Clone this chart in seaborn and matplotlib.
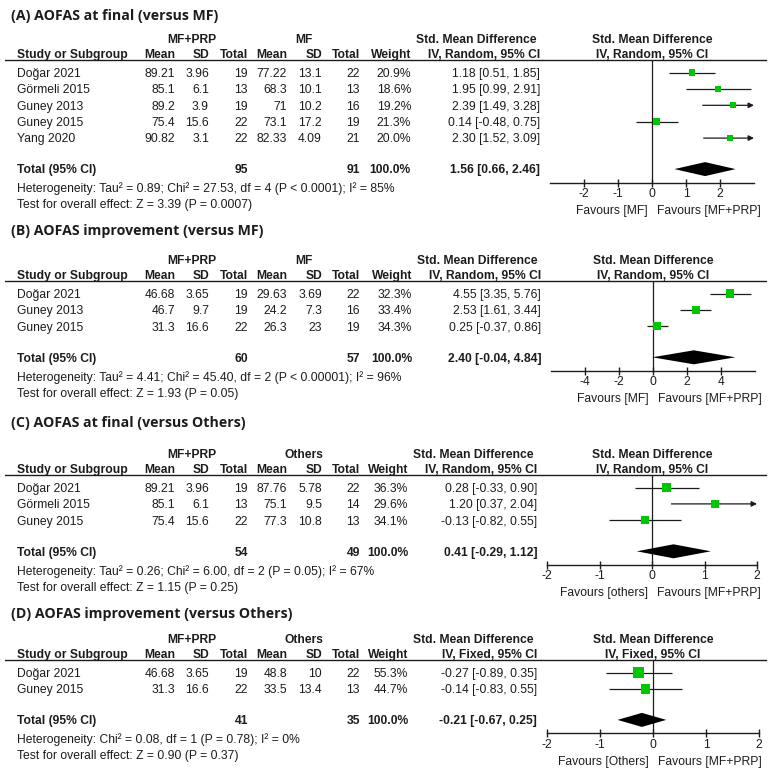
import numpy as np
import pandas as pd
import matplotlib
matplotlib.use("Agg")
import matplotlib.pyplot as plt
import seaborn as sns

sns.set_theme(style="white")
plt.rcParams['font.family'] = ['Liberation Sans', 'DejaVu Sans']

# ---------------- Panel A ----------------
a_title = "(A) AOFAS at final (versus MF)"
a_control = "MF"
a_method = "IV, Random, 95% CI"
a_studies = ["Doğar 2021", "Görmeli 2015", "Guney 2013", "Guney 2015", "Yang 2020"]
a_exp_mean = [89.21, 85.1, 89.2, 75.4, 90.82]
a_exp_sd = [3.96, 6.1, 3.9, 15.6, 3.1]
a_exp_n = [19, 13, 19, 22, 22]
a_ctl_mean = [77.22, 68.3, 71, 73.1, 82.33]
a_ctl_sd = [13.1, 10.1, 10.2, 17.2, 4.09]
a_ctl_n = [22, 13, 16, 19, 21]
a_weight = [20.9, 18.6, 19.2, 21.3, 20.0]
a_smd = [1.18, 1.95, 2.39, 0.14, 2.30]
a_lo = [0.51, 0.99, 1.49, -0.48, 1.52]
a_hi = [1.85, 2.91, 3.28, 0.75, 3.09]
a_total = [95, 91]
a_pooled = [1.56, 0.66, 2.46]
a_het = "Heterogeneity: Tau² = 0.89; Chi² = 27.53, df = 4 (P < 0.0001); I² = 85%"
a_test = "Test for overall effect: Z = 3.39 (P = 0.0007)"
a_ticks = [-2, -1, 0, 1, 2]
a_fav = ["Favours [MF]", "Favours [MF+PRP]"]

# ---------------- Panel B ----------------
b_title = "(B) AOFAS improvement (versus MF)"
b_control = "MF"
b_method = "IV, Random, 95% CI"
b_studies = ["Doğar 2021", "Guney 2013", "Guney 2015"]
b_exp_mean = [46.68, 46.7, 31.3]
b_exp_sd = [3.65, 9.7, 16.6]
b_exp_n = [19, 19, 22]
b_ctl_mean = [29.63, 24.2, 26.3]
b_ctl_sd = [3.69, 7.3, 23]
b_ctl_n = [22, 16, 19]
b_weight = [32.3, 33.4, 34.3]
b_smd = [4.55, 2.53, 0.25]
b_lo = [3.35, 1.61, -0.37]
b_hi = [5.76, 3.44, 0.86]
b_total = [60, 57]
b_pooled = [2.40, -0.04, 4.84]
b_het = "Heterogeneity: Tau² = 4.41; Chi² = 45.40, df = 2 (P < 0.00001); I² = 96%"
b_test = "Test for overall effect: Z = 1.93 (P = 0.05)"
b_ticks = [-4, -2, 0, 2, 4]
b_fav = ["Favours [MF]", "Favours [MF+PRP]"]

# ---------------- Panel C ----------------
c_title = "(C) AOFAS at final (versus Others)"
c_control = "Others"
c_method = "IV, Random, 95% CI"
c_studies = ["Doğar 2021", "Görmeli 2015", "Guney 2015"]
c_exp_mean = [89.21, 85.1, 75.4]
c_exp_sd = [3.96, 6.1, 15.6]
c_exp_n = [19, 13, 22]
c_ctl_mean = [87.76, 75.1, 77.3]
c_ctl_sd = [5.78, 9.5, 10.8]
c_ctl_n = [22, 14, 13]
c_weight = [36.3, 29.6, 34.1]
c_smd = [0.28, 1.20, -0.13]
c_lo = [-0.33, 0.37, -0.82]
c_hi = [0.90, 2.04, 0.55]
c_total = [54, 49]
c_pooled = [0.41, -0.29, 1.12]
c_het = "Heterogeneity: Tau² = 0.26; Chi² = 6.00, df = 2 (P = 0.05); I² = 67%"
c_test = "Test for overall effect: Z = 1.15 (P = 0.25)"
c_ticks = [-2, -1, 0, 1, 2]
c_fav = ["Favours [others]", "Favours [MF+PRP]"]

# ---------------- Panel D ----------------
d_title = "(D) AOFAS improvement (versus Others)"
d_control = "Others"
d_method = "IV, Fixed, 95% CI"
d_studies = ["Doğar 2021", "Guney 2015"]
d_exp_mean = [46.68, 31.3]
d_exp_sd = [3.65, 16.6]
d_exp_n = [19, 22]
d_ctl_mean = [48.8, 33.5]
d_ctl_sd = [10, 13.4]
d_ctl_n = [22, 13]
d_weight = [55.3, 44.7]
d_smd = [-0.27, -0.14]
d_lo = [-0.89, -0.83]
d_hi = [0.35, 0.55]
d_total = [41, 35]
d_pooled = [-0.21, -0.67, 0.25]
d_het = "Heterogeneity: Chi² = 0.08, df = 1 (P = 0.78); I² = 0%"
d_test = "Test for overall effect: Z = 0.90 (P = 0.37)"
d_ticks = [-2, -1, 0, 1, 2]
d_fav = ["Favours [Others]", "Favours [MF+PRP]"]

panels = [
    dict(title=a_title, control=a_control, method=a_method, studies=a_studies,
         em=a_exp_mean, esd=a_exp_sd, en=a_exp_n, cm=a_ctl_mean, csd=a_ctl_sd, cn=a_ctl_n,
         w=a_weight, smd=a_smd, lo=a_lo, hi=a_hi, tot=a_total, pooled=a_pooled,
         het=a_het, test=a_test, ticks=a_ticks, fav=a_fav,
         title_y=15, line=60, zx=652, half=102, lim=3, dx=0),
    dict(title=b_title, control=b_control, method=b_method, studies=b_studies,
         em=b_exp_mean, esd=b_exp_sd, en=b_exp_n, cm=b_ctl_mean, csd=b_ctl_sd, cn=b_ctl_n,
         w=b_weight, smd=b_smd, lo=b_lo, hi=b_hi, tot=b_total, pooled=b_pooled,
         het=b_het, test=b_test, ticks=b_ticks, fav=b_fav,
         title_y=230, line=281, zx=653, half=102, lim=6, dx=1),
    dict(title=c_title, control=c_control, method=c_method, studies=c_studies,
         em=c_exp_mean, esd=c_exp_sd, en=c_exp_n, cm=c_ctl_mean, csd=c_ctl_sd, cn=c_ctl_n,
         w=c_weight, smd=c_smd, lo=c_lo, hi=c_hi, tot=c_total, pooled=c_pooled,
         het=c_het, test=c_test, ticks=c_ticks, fav=c_fav,
         title_y=422, line=475, zx=652, half=105, lim=2, dx=-3),
    dict(title=d_title, control=d_control, method=d_method, studies=d_studies,
         em=d_exp_mean, esd=d_exp_sd, en=d_exp_n, cm=d_ctl_mean, csd=d_ctl_sd, cn=d_ctl_n,
         w=d_weight, smd=d_smd, lo=d_lo, hi=d_hi, tot=d_total, pooled=d_pooled,
         het=d_het, test=d_test, ticks=d_ticks, fav=d_fav,
         title_y=613, line=660, zx=653, half=106, lim=2, dx=-3),
]

W = H = 773
FS = 8.7
TC = '#1c1c1c'
GREEN = '#00c800'
BASE = 0.36 * FS * 100 / 72  # half cap height in px

fig = plt.figure(figsize=(W / 100, H / 100), dpi=100)
fig.patch.set_facecolor('white')
tx = fig.add_axes([0, 0, 1, 1])
tx.set_xlim(0, W)
tx.set_ylim(H, 0)
tx.axis('off')


def t(x, y, s, ha='left', bold=False, **kw):
    tx.text(x, y + BASE, s, ha=ha, va='baseline', fontsize=FS, color=TC,
            fontweight='bold' if bold else 'normal', **kw)


def fmt(v):
    return f"{v:g}"


col_r = [175, 209, 248, 287, 322, 360]

for p in panels:
    line = p['line']
    dx = p['dx']
    zx = p['zx']
    g = line - 21.5
    h = line - 6
    tx.text(11, p['title_y'] + 5, p['title'], ha='left', va='baseline', fontsize=10.2,
            fontweight='bold', color=TC, family=['Open Sans', 'DejaVu Sans'])
    t(192, g, "MF+PRP", 'center', True)
    t(304, g, p['control'], 'center', True)
    t(17, h, "Study or Subgroup", 'left', True)
    for xr, lab in zip(col_r, ["Mean", "SD", "Total", "Mean", "SD", "Total"]):
        t(xr, h, lab, 'right', True)
    t(411 + dx, h, "Weight", 'right', True)
    t(476 + dx, g, "Std. Mean Difference", 'center', True)
    t(540 + dx, h, p['method'], 'right', True)
    t(zx, g, "Std. Mean Difference", 'center', True)
    t(zx, h, p['method'], 'center', True)
    tx.plot([5, 766], [line, line], color=TC, lw=1.0)

    n = len(p['studies'])
    ys = line + 12.5 + 16.4 * np.arange(n)
    ytot = ys[-1] + 31
    yax = ytot + 13.5

    for i in range(n):
        y = ys[i]
        t(17, y, p['studies'][i])
        vals = [fmt(p['em'][i]), fmt(p['esd'][i]), str(p['en'][i]),
                fmt(p['cm'][i]), fmt(p['csd'][i]), str(p['cn'][i])]
        for xr, v in zip(col_r, vals):
            t(xr, y, v, 'right')
        t(411 + dx, y, f"{p['w'][i]:.1f}%", 'right')
        t(540 + dx, y, f"{p['smd'][i]:.2f} [{p['lo'][i]:.2f}, {p['hi'][i]:.2f}]", 'right')

    t(17, ytot, "Total (95% CI)", 'left', True)
    t(col_r[2], ytot, str(p['tot'][0]), 'right', True)
    t(col_r[5], ytot, str(p['tot'][1]), 'right', True)
    t(411 + dx, ytot, "100.0%", 'right', True)
    pe, pl, ph = p['pooled']
    t(540 + dx, ytot, f"{pe:.2f} [{pl:.2f}, {ph:.2f}]", 'right', True)
    t(17, ytot + 19, p['het'])
    t(17, ytot + 35, p['test'])

    # forest axes
    xl = zx - p['half']
    xr_ = zx + p['half']
    ax = fig.add_axes([xl / W, 1 - yax / H, (xr_ - xl) / W, (yax - line) / H])
    ax.set_xlim(-p['lim'], p['lim'])
    ax.set_ylim(yax, line)
    ax.patch.set_alpha(0)
    for s in ['top', 'left', 'right']:
        ax.spines[s].set_visible(False)
    ax.spines['bottom'].set_color(TC)
    ax.spines['bottom'].set_linewidth(1.0)
    ax.set_yticks([])
    ax.set_xticks(p['ticks'])
    ax.set_xticklabels([str(v) for v in p['ticks']])
    ax.tick_params(axis='x', direction='inout', length=6, width=1.0,
                   labelsize=FS, pad=1, colors=TC, bottom=True)
    ax.axvline(0, color=TC, lw=0.9, zorder=1)

    df = pd.DataFrame({'smd': p['smd'], 'lo': p['lo'], 'hi': p['hi'],
                       'y': ys, 'w': p['w']})
    for _, r in df.iterrows():
        if r['hi'] > p['lim']:
            ax.annotate('', xy=(p['lim'], r['y']), xytext=(r['lo'], r['y']),
                        arrowprops=dict(arrowstyle='-|>', color=TC, lw=0.9,
                                        mutation_scale=8, shrinkA=0, shrinkB=0),
                        annotation_clip=False)
        else:
            ax.hlines(r['y'], r['lo'], r['hi'], color=TC, lw=0.9, zorder=2)
    sizes = (1.42 * np.sqrt(df['w'].values) * 0.72) ** 2
    sns.scatterplot(data=df, x='smd', y='y', marker='s', s=sizes, color=GREEN,
                    edgecolor='none', linewidth=0, ax=ax, legend=False, zorder=3)
    ax.fill([pl, pe, ph, pe], [ytot, ytot - 7, ytot, ytot + 7], color='black', zorder=3, lw=0)
    ax.set_xlabel('')
    ax.set_ylabel('')

    t(zx - 4, yax + 27, p['fav'][0], 'right')
    t(zx + 5, yax + 27, p['fav'][1], 'left')

fig.savefig('out.png', dpi=100, facecolor='white')
